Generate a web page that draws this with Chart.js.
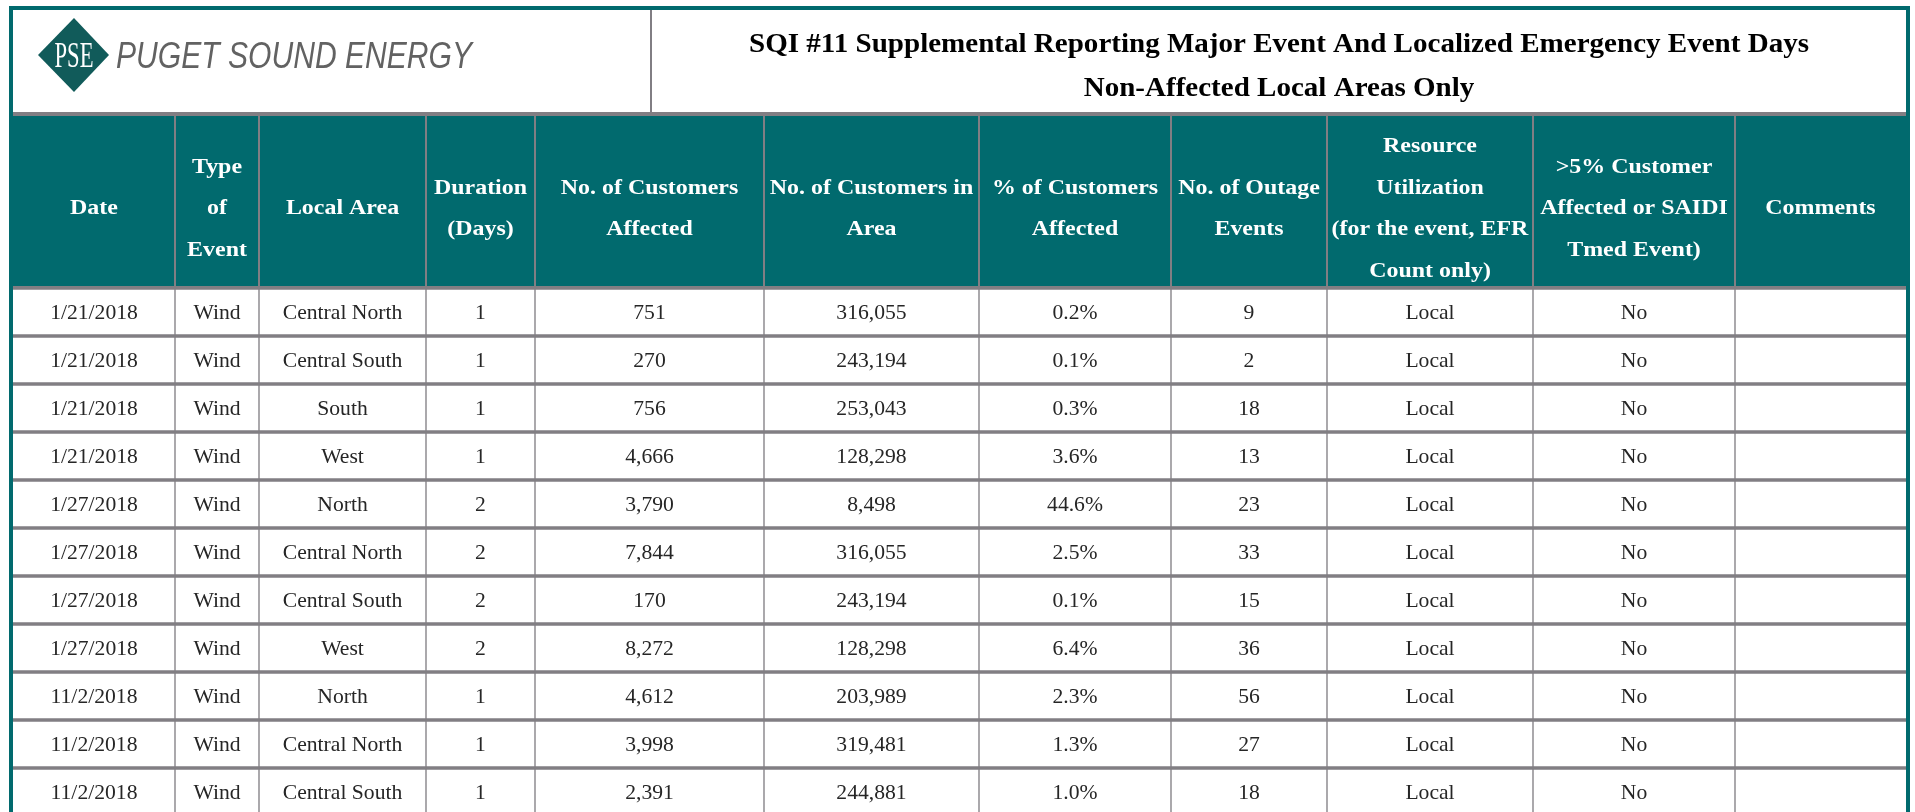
<!DOCTYPE html>
<html>
<head>
<meta charset="utf-8">
<title>SQI #11 Supplemental Reporting</title>
<script src="https://cdn.jsdelivr.net/npm/chart.js@4"></script>
<style>
    html, body { margin: 0; padding: 0; background: #fff; overflow: hidden; }
    canvas { display: block; }
</style>
</head>
<body>
<canvas id="tabela" width="1915" height="830"></canvas>
<script>
const titleLines = ['SQI #11 Supplemental Reporting Major Event And Localized Emergency Event Days', 'Non-Affected Local Areas Only']
const headers = [
    ['Date'],
    ['Type', 'of', 'Event'],
    ['Local Area'],
    ['Duration', '(Days)'],
    ['No. of Customers', 'Affected'],
    ['No. of Customers in', 'Area'],
    ['% of Customers', 'Affected'],
    ['No. of Outage', 'Events'],
    ['Resource', 'Utilization', '(for the event, EFR', 'Count only)'],
    ['>5% Customer', 'Affected or SAIDI', 'Tmed Event)'],
    ['Comments']
]

const dates = ['1/21/2018', '1/21/2018', '1/21/2018', '1/21/2018', '1/27/2018', '1/27/2018', '1/27/2018', '1/27/2018', '11/2/2018', '11/2/2018', '11/2/2018']
const eventTypes = ['Wind', 'Wind', 'Wind', 'Wind', 'Wind', 'Wind', 'Wind', 'Wind', 'Wind', 'Wind', 'Wind']
const localAreas = ['Central North', 'Central South', 'South', 'West', 'North', 'Central North', 'Central South', 'West', 'North', 'Central North', 'Central South']
const durations = [1, 1, 1, 1, 2, 2, 2, 2, 1, 1, 1]
const customersAffected = [751, 270, 756, 4666, 3790, 7844, 170, 8272, 4612, 3998, 2391]
const customersInArea = [316055, 243194, 253043, 128298, 8498, 316055, 243194, 128298, 203989, 319481, 244881]
const pctAffected = [0.2, 0.1, 0.3, 3.6, 44.6, 2.5, 0.1, 6.4, 2.3, 1.3, 1.0]
const outageEvents = [9, 2, 18, 13, 23, 33, 15, 36, 56, 27, 18]
const resourceUtil = ['Local', 'Local', 'Local', 'Local', 'Local', 'Local', 'Local', 'Local', 'Local', 'Local', 'Local']
const over5pct = ['No', 'No', 'No', 'No', 'No', 'No', 'No', 'No', 'No', 'No', 'No']
const comments = ['', '', '', '', '', '', '', '', '', '', '']

// layout
const colWidths = [162, 84, 167, 109, 229, 215, 192, 156, 206, 202, 171]
const teal = '#016a6e'
const gray = '#817e83'
const serif = '"Liberation Serif", "Times New Roman", serif'

const fmtNum = v => String(v).replace(/\B(?=(\d{3})+(?!\d))/g, ',')
const fmtPct = v => v.toFixed(1) + '%'

const columns = [
    dates,
    eventTypes,
    localAreas,
    durations.map(String),
    customersAffected.map(fmtNum),
    customersInArea.map(fmtNum),
    pctAffected.map(fmtPct),
    outageEvents.map(String),
    resourceUtil,
    over5pct,
    comments
]

const edges = [0]
colWidths.forEach(w => edges.push(edges[edges.length - 1] + w))
const total = edges[edges.length - 1]
const last = colWidths.length - 1

const datasets = colWidths.map((w, j) => ({
    data: dates.map(() => [edges[j] + (j === 0 ? 0 : 1), edges[j + 1] - (j === last ? 0 : 1)]),
    backgroundColor: '#ffffff',
    borderWidth: 0,
    barThickness: 44,
    grouped: false
}))

function drawText(ctx, text, x, y, sx) {
    ctx.save()
    ctx.translate(x, y)
    ctx.scale(sx, 1)
    ctx.fillText(text, 0, 0)
    ctx.restore()
}

function fitScale(ctx, text, width) {
    return width / ctx.measureText(text).width
}

const tablePlugin = {
    id: 'tabela',
    beforeDraw(chart) {
        const { ctx, chartArea: a, scales: { x } } = chart
        const L = a.left, R = a.right
        ctx.save()
        ctx.fillStyle = '#ffffff'
        ctx.fillRect(0, 0, chart.width, chart.height)

        // moldura
        ctx.fillStyle = teal
        ctx.fillRect(L - 4, 6, R - L + 8, 4)
        ctx.fillRect(L - 4, 6, 4, chart.height)
        ctx.fillRect(R, 6, 4, chart.height)

        // logo
        ctx.fillStyle = '#115b5a'
        ctx.beginPath()
        ctx.moveTo(38, 55)
        ctx.lineTo(74, 18)
        ctx.lineTo(109, 55)
        ctx.lineTo(74, 92)
        ctx.closePath()
        ctx.fill()
        ctx.fillStyle = '#ffffff'
        ctx.font = '36px ' + serif
        ctx.textAlign = 'center'
        ctx.textBaseline = 'alphabetic'
        drawText(ctx, 'PSE', 74, 67, fitScale(ctx, 'PSE', 39))
        ctx.fillStyle = '#626262'
        ctx.font = 'italic 37px "Liberation Sans", Arial, sans-serif'
        ctx.textAlign = 'left'
        drawText(ctx, 'PUGET SOUND ENERGY', 116, 68, fitScale(ctx, 'PUGET SOUND ENERGY', 356))

        // titulo
        ctx.fillStyle = gray
        ctx.fillRect(650, 10, 2, 102)
        ctx.fillStyle = '#000000'
        ctx.font = 'bold 28px ' + serif
        ctx.textAlign = 'center'
        ctx.textBaseline = 'middle'
        const tsx = fitScale(ctx, titleLines[0], 1060)
        const tcx = (652 + R) / 2
        drawText(ctx, titleLines[0], tcx, 45, tsx)
        drawText(ctx, titleLines[1], tcx, 89, tsx)

        // cabecalho
        ctx.fillStyle = gray
        ctx.fillRect(L, 112, R - L, 4)
        ctx.fillStyle = teal
        ctx.fillRect(L - 4, 116, R - L + 8, 170)
        ctx.fillStyle = gray
        ctx.fillRect(L, 286, R - L, 2)
        for (let j = 1; j < edges.length - 1; j++) {
            ctx.fillRect(x.getPixelForValue(edges[j]) - 1, 116, 2, 170)
        }
        ctx.fillStyle = '#ffffff'
        ctx.font = 'bold 21px ' + serif
        headers.forEach((lines, j) => {
            const cx = x.getPixelForValue((edges[j] + edges[j + 1]) / 2)
            lines.forEach((t, k) => {
                drawText(ctx, t, cx, 209 + (k - (lines.length - 1) / 2) * 41.5, 1.14)
            })
        })

        // fundo das linhas
        ctx.fillStyle = gray
        ctx.fillRect(a.left, a.top, a.width, a.height)
        ctx.restore()
    },
    afterDatasetsDraw(chart) {
        const { ctx, scales: { x, y } } = chart
        ctx.save()
        ctx.fillStyle = '#262626'
        ctx.font = '21px ' + serif
        ctx.textAlign = 'center'
        ctx.textBaseline = 'middle'
        columns.forEach((col, j) => {
            const cx = x.getPixelForValue((edges[j] + edges[j + 1]) / 2)
            col.forEach((t, i) => {
                if (t) drawText(ctx, t, cx, y.getPixelForValue(i) + 1, 1.03)
            })
        })
        ctx.restore()
    }
}

new Chart(document.getElementById('tabela'), {
    type: 'bar',
    data: {
        labels: dates,
        datasets: datasets
    },
    options: {
        indexAxis: 'y',
        responsive: false,
        animation: false,
        devicePixelRatio: 1,
        events: [],
        layout: { padding: { left: 13, right: 9, top: 288, bottom: 14 } },
        scales: {
            x: { type: 'linear', min: 0, max: total, display: false },
            y: { type: 'category', offset: true, display: false }
        },
        plugins: {
            legend: { display: false },
            tooltip: { enabled: false }
        }
    },
    plugins: [tablePlugin]
})
</script>
</body>
</html>
